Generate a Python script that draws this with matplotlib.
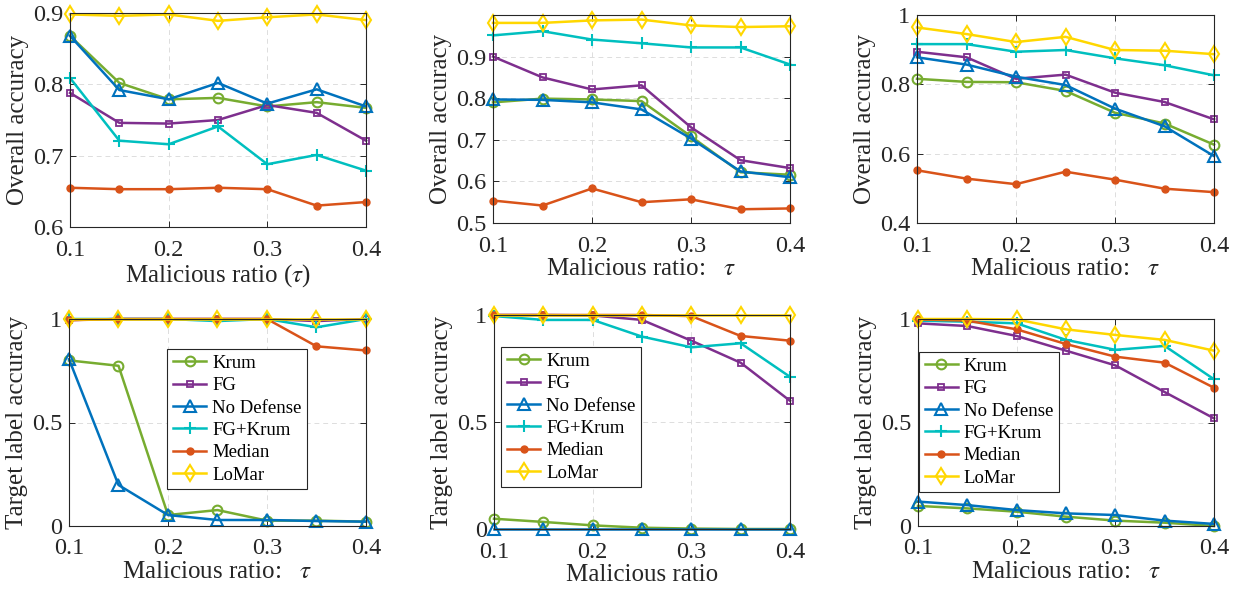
import numpy as np
import matplotlib
matplotlib.use("Agg")
import matplotlib.pyplot as plt

plt.rcParams['font.family'] = ['Liberation Serif', 'DejaVu Serif']
plt.rcParams['mathtext.fontset'] = 'stix'

ratios = [0.1, 0.15, 0.2, 0.25, 0.3, 0.35, 0.4]
methods = ['Krum', 'FG', 'No Defense', 'FG+Krum', 'Median', 'LoMar']

# overall accuracy, three datasets
overall_a = {
    'Krum':       [0.868, 0.802, 0.779, 0.781, 0.769, 0.775, 0.767],
    'FG':         [0.788, 0.746, 0.745, 0.750, 0.771, 0.760, 0.721],
    'No Defense': [0.868, 0.792, 0.779, 0.802, 0.773, 0.793, 0.769],
    'FG+Krum':    [0.809, 0.721, 0.716, 0.741, 0.688, 0.701, 0.679],
    'Median':     [0.655, 0.653, 0.653, 0.655, 0.653, 0.630, 0.635],
    'LoMar':      [0.898, 0.896, 0.898, 0.889, 0.894, 0.898, 0.890],
}
overall_b = {
    'Krum':       [0.790, 0.799, 0.797, 0.793, 0.708, 0.622, 0.616],
    'FG':         [0.900, 0.850, 0.821, 0.831, 0.730, 0.651, 0.632],
    'No Defense': [0.797, 0.796, 0.790, 0.773, 0.703, 0.624, 0.610],
    'FG+Krum':    [0.951, 0.961, 0.941, 0.932, 0.922, 0.922, 0.881],
    'Median':     [0.554, 0.542, 0.583, 0.550, 0.557, 0.533, 0.535],
    'LoMar':      [0.981, 0.981, 0.987, 0.989, 0.975, 0.971, 0.973],
}
overall_c = {
    'Krum':       [0.816, 0.807, 0.806, 0.781, 0.718, 0.687, 0.626],
    'FG':         [0.894, 0.878, 0.816, 0.828, 0.776, 0.749, 0.699],
    'No Defense': [0.878, 0.857, 0.822, 0.798, 0.730, 0.679, 0.593],
    'FG+Krum':    [0.916, 0.916, 0.894, 0.899, 0.875, 0.855, 0.826],
    'Median':     [0.552, 0.528, 0.512, 0.548, 0.525, 0.499, 0.489],
    'LoMar':      [0.964, 0.945, 0.922, 0.937, 0.899, 0.897, 0.887],
}
# target label accuracy, three datasets
target_a = {
    'Krum':       [0.800, 0.774, 0.053, 0.077, 0.026, 0.026, 0.021],
    'FG':         [0.995, 1.000, 1.000, 1.000, 1.000, 0.990, 1.000],
    'No Defense': [0.806, 0.198, 0.053, 0.029, 0.029, 0.024, 0.021],
    'FG+Krum':    [1.000, 1.000, 1.000, 0.990, 1.000, 0.960, 1.000],
    'Median':     [0.994, 1.000, 1.000, 1.000, 1.000, 0.868, 0.848],
    'LoMar':      [1.000, 1.000, 1.000, 1.000, 1.000, 1.000, 1.000],
}
target_b = {
    'Krum':       [0.048, 0.033, 0.017, 0.006, 0.002, 0.000, 0.000],
    'FG':         [1.000, 1.000, 0.998, 0.977, 0.880, 0.777, 0.599],
    'No Defense': [0.000, 0.000, 0.000, 0.000, 0.000, 0.000, 0.000],
    'FG+Krum':    [0.995, 0.977, 0.977, 0.899, 0.849, 0.868, 0.711],
    'Median':     [1.000, 1.000, 1.000, 1.000, 0.995, 0.902, 0.880],
    'LoMar':      [1.000, 1.000, 1.000, 1.000, 1.000, 1.000, 1.000],
}
target_c = {
    'Krum':       [0.097, 0.085, 0.069, 0.045, 0.026, 0.016, 0.000],
    'FG':         [0.979, 0.966, 0.918, 0.847, 0.776, 0.647, 0.520],
    'No Defense': [0.118, 0.101, 0.077, 0.061, 0.053, 0.026, 0.010],
    'FG+Krum':    [0.992, 0.987, 0.979, 0.899, 0.851, 0.870, 0.709],
    'Median':     [0.998, 0.992, 0.950, 0.879, 0.818, 0.789, 0.668],
    'LoMar':      [1.000, 1.000, 0.998, 0.950, 0.923, 0.899, 0.847],
}

xticks = [0.1, 0.2, 0.3, 0.4]
xtick_labels = ['0.1', '0.2', '0.3', '0.4']

styles = {
    'Krum':       dict(color='#77AC30', marker='o', ms=7, mfc='none', mew=1.5),
    'FG':         dict(color='#7E2F8E', marker='s', ms=5, mfc='none', mew=1.3),
    'No Defense': dict(color='#0072BD', marker='^', ms=8, mfc='none', mew=1.5),
    'FG+Krum':    dict(color='#00BFBF', marker='+', ms=8, mew=1.5),
    'Median':     dict(color='#D95319', marker='o', ms=5),
    'LoMar':      dict(color='#FFD700', marker='d', ms=8, mfc='none', mew=1.5),
}

W, H = 1235, 596
fig = plt.figure(figsize=(W / 100, H / 100), dpi=100)


def make_axes(x0, y0, x1, y1):
    return fig.add_axes([x0 / W, 1 - y1 / H, (x1 - x0) / W, (y1 - y0) / H])


tau_label = r'Malicious ratio:   $\tau$'
panels = [
    # data, pixel box, ylim, yticks, ylabels, xlabel, ylabel, legend anchor
    (overall_a, (70, 13, 366, 227), (0.6, 0.9), [0.6, 0.7, 0.8, 0.9],
     ['0.6', '0.7', '0.8', '0.9'], r'Malicious ratio ($\tau$)', 'Overall accuracy', None),
    (overall_b, (493, 15, 790, 223), (0.5, 1.0), [0.5, 0.6, 0.7, 0.8, 0.9],
     ['0.5', '0.6', '0.7', '0.8', '0.9'], tau_label, 'Overall accuracy', None),
    (overall_c, (917, 15, 1214, 223), (0.4, 1.0), [0.4, 0.6, 0.8, 1.0],
     ['0.4', '0.6', '0.8', '1'], tau_label, 'Overall accuracy', None),
    (target_a, (69, 319, 366, 526), (0, 1), [0, 0.5, 1],
     ['0', '0.5', '1'], tau_label, 'Target label accuracy', (0.33, 0.855)),
    (target_b, (494, 315, 790, 529), (0, 1), [0, 0.5, 1],
     ['0', '0.5', '1'], 'Malicious ratio', 'Target label accuracy', (0.024, 0.85)),
    (target_c, (918, 319, 1214, 526), (0, 1), [0, 0.5, 1],
     ['0', '0.5', '1'], tau_label, 'Target label accuracy', (0.003, 0.84)),
]

for data, box, ylim, yt, ytl, xlab, ylab, leg in panels:
    ax = make_axes(*box)
    for m in methods:
        ax.plot(ratios, data[m], label=m, lw=1.8, clip_on=False, **styles[m])
    ax.set_xlim(0.1, 0.4)
    ax.set_ylim(*ylim)
    ax.set_xticks(xticks)
    ax.set_xticklabels(xtick_labels)
    ax.set_yticks(yt)
    ax.set_yticklabels(ytl)
    ax.tick_params(direction='in', top=True, right=True, labelsize=17.5,
                   length=4, width=0.7, colors='#262626')
    ax.tick_params(axis='x', pad=9)
    ax.tick_params(axis='y', pad=5)
    ax.grid(True, linestyle=(0, (5, 4)), color='#dddddd', lw=0.7)
    ax.set_axisbelow(True)
    for s in ax.spines.values():
        s.set_color('#262626')
        s.set_linewidth(0.8)
    ax.set_xlabel(xlab, fontsize=18, color='#262626', labelpad=1)
    ax.set_ylabel(ylab, fontsize=18, color='#262626', labelpad=3)
    if leg is not None:
        lg = ax.legend(loc='upper left', bbox_to_anchor=leg, borderaxespad=0,
                       fontsize=13.5, handlelength=1.8, handletextpad=0.3,
                       labelspacing=0.28, borderpad=0.3, fancybox=False,
                       framealpha=1, edgecolor='#262626')
        lg.get_frame().set_linewidth(0.8)
        lg.set_zorder(5)

fig.savefig('out.png', dpi=100)
